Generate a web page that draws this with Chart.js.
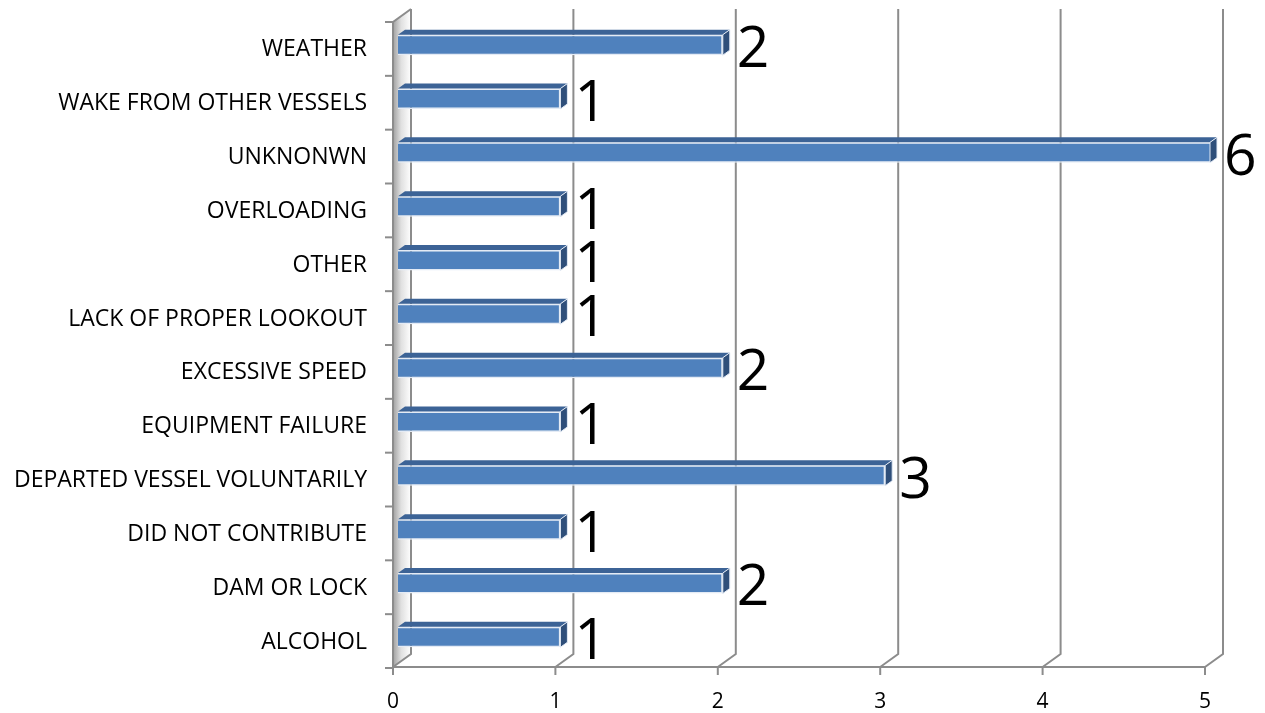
<!DOCTYPE html>
<html>
<head>
<meta charset="utf-8">
<script src="https://cdn.jsdelivr.net/npm/chart.js@4/dist/chart.umd.min.js"></script>
<style>
  body { margin: 0; background: #fff; }
  #wrap { width: 1265px; height: 713px; }
</style>
</head>
<body>
<div id="wrap"><canvas id="causeChart" width="1265" height="713"></canvas></div>
<script>
// Ursachen (von oben nach unten) und Anzahl
const categories = [
  "WEATHER",
  "WAKE FROM OTHER VESSELS",
  "UNKNONWN",
  "OVERLOADING",
  "OTHER",
  "LACK OF PROPER LOOKOUT",
  "EXCESSIVE SPEED",
  "EQUIPMENT FAILURE",
  "DEPARTED VESSEL VOLUNTARILY",
  "DID NOT CONTRIBUTE",
  "DAM OR LOCK",
  "ALCOHOL",
];
const counts = [2, 1, 6, 1, 1, 1, 2, 1, 3, 1, 2, 1];
const xTicks = [0, 1, 2, 3, 4, 5];

const FONT = "'Open Sans', Lato, sans-serif";
const GRID = "#8c8c8c";

// 3D-Rahmen: Rückwand, Boden, linke Wand, Achsenbeschriftung
const framePlugin = {
  id: "frame3d",
  beforeDatasetsDraw(chart) {
    const { ctx, chartArea: a, scales } = chart;
    const x = scales.x;
    const fx = (v) => x.getPixelForValue(v) - 5;
    const bx = (v) => x.getPixelForValue(v) + 13;
    const fy = a.bottom + 3;
    const by = a.bottom - 10;
    const top = 9;
    const frontTop = 22;

    ctx.save();
    // linke Wand
    const g = ctx.createLinearGradient(fx(0), 0, bx(0), 0);
    g.addColorStop(0, "#a0a0a0");
    g.addColorStop(0.45, "#e0e0e0");
    g.addColorStop(1, "#ffffff");
    ctx.fillStyle = g;
    ctx.beginPath();
    ctx.moveTo(fx(0), frontTop);
    ctx.lineTo(bx(0), top);
    ctx.lineTo(bx(0), by);
    ctx.lineTo(fx(0), fy);
    ctx.closePath();
    ctx.fill();

    ctx.strokeStyle = GRID;
    ctx.lineWidth = 2;
    xTicks.forEach((v) => {
      ctx.beginPath();
      ctx.moveTo(fx(v), fy);
      ctx.lineTo(bx(v), by);
      ctx.lineTo(bx(v), top);
      ctx.stroke();
      // Tick unten
      ctx.beginPath();
      ctx.moveTo(fx(v), fy);
      ctx.lineTo(fx(v), fy + 8);
      ctx.stroke();
    });
    // Vorderkante linke Wand + Boden
    ctx.beginPath();
    ctx.moveTo(bx(0), top);
    ctx.lineTo(fx(0), frontTop);
    ctx.lineTo(fx(0), fy);
    ctx.lineTo(fx(xTicks[xTicks.length - 1]), fy);
    ctx.stroke();

    // Ticks an der y-Achse
    const step = a.height / categories.length;
    for (let i = 0; i <= categories.length; i++) {
      const yy = a.top + i * step + 4;
      ctx.beginPath();
      ctx.moveTo(fx(0) - 8, yy);
      ctx.lineTo(fx(0), yy);
      ctx.stroke();
    }

    // Beschriftungen
    ctx.fillStyle = "#000";
    ctx.font = "21px " + FONT;
    ctx.textBaseline = "middle";
    ctx.textAlign = "center";
    xTicks.forEach((v) => ctx.fillText(String(v), fx(v), fy + 35));

    ctx.font = "23px " + FONT;
    ctx.textAlign = "right";
    categories.forEach((c, i) => {
      ctx.fillText(c, 367, scales.y.getPixelForValue(i) + 5);
    });
    ctx.restore();
  },
  afterDatasetsDraw(chart) {
    const { ctx, chartArea: a } = chart;
    const meta = chart.getDatasetMeta(0);
    const dx = 7, dy = -5;
    ctx.save();
    meta.data.forEach((bar, i) => {
      const x0 = bar.base;
      const x1 = Math.min(bar.x, a.right);
      const t = bar.y - bar.height / 2;
      const b = bar.y + bar.height / 2;
      // Oberseite
      ctx.fillStyle = "#3c6396";
      ctx.beginPath();
      ctx.moveTo(x0, t);
      ctx.lineTo(x0 + dx, t + dy);
      ctx.lineTo(x1 + dx, t + dy);
      ctx.lineTo(x1, t);
      ctx.closePath();
      ctx.fill();
      // rechte Seite
      ctx.fillStyle = "#2f4f7a";
      ctx.beginPath();
      ctx.moveTo(x1, t);
      ctx.lineTo(x1 + dx, t + dy);
      ctx.lineTo(x1 + dx, b + dy);
      ctx.lineTo(x1, b);
      ctx.closePath();
      ctx.fill();
      ctx.strokeStyle = "#e4ebf5";
      ctx.lineWidth = 1;
      ctx.stroke();

      // Wert
      ctx.fillStyle = "#000";
      ctx.font = "57px " + FONT;
      ctx.textAlign = "left";
      ctx.textBaseline = "middle";
      ctx.fillText(String(counts[i]), x1 + 14, bar.y + 6);
    });
    ctx.restore();
  },
};

new Chart(document.getElementById("causeChart"), {
  type: "bar",
  data: {
    labels: categories,
    datasets: [
      {
        data: counts,
        backgroundColor: "#4f81bd",
        borderColor: "#e4ebf5",
        borderWidth: 1.5,
        categoryPercentage: 1,
        barPercentage: 0.38,
      },
    ],
  },
  options: {
    indexAxis: "y",
    responsive: false,
    animation: false,
    layout: {
      padding: { left: 398, right: 55, top: 18, bottom: 49 },
    },
    plugins: {
      legend: { display: false },
      tooltip: { enabled: false },
    },
    scales: {
      x: { display: false, min: 0, max: 5 },
      y: { display: false },
    },
  },
  plugins: [framePlugin],
});
</script>
</body>
</html>
